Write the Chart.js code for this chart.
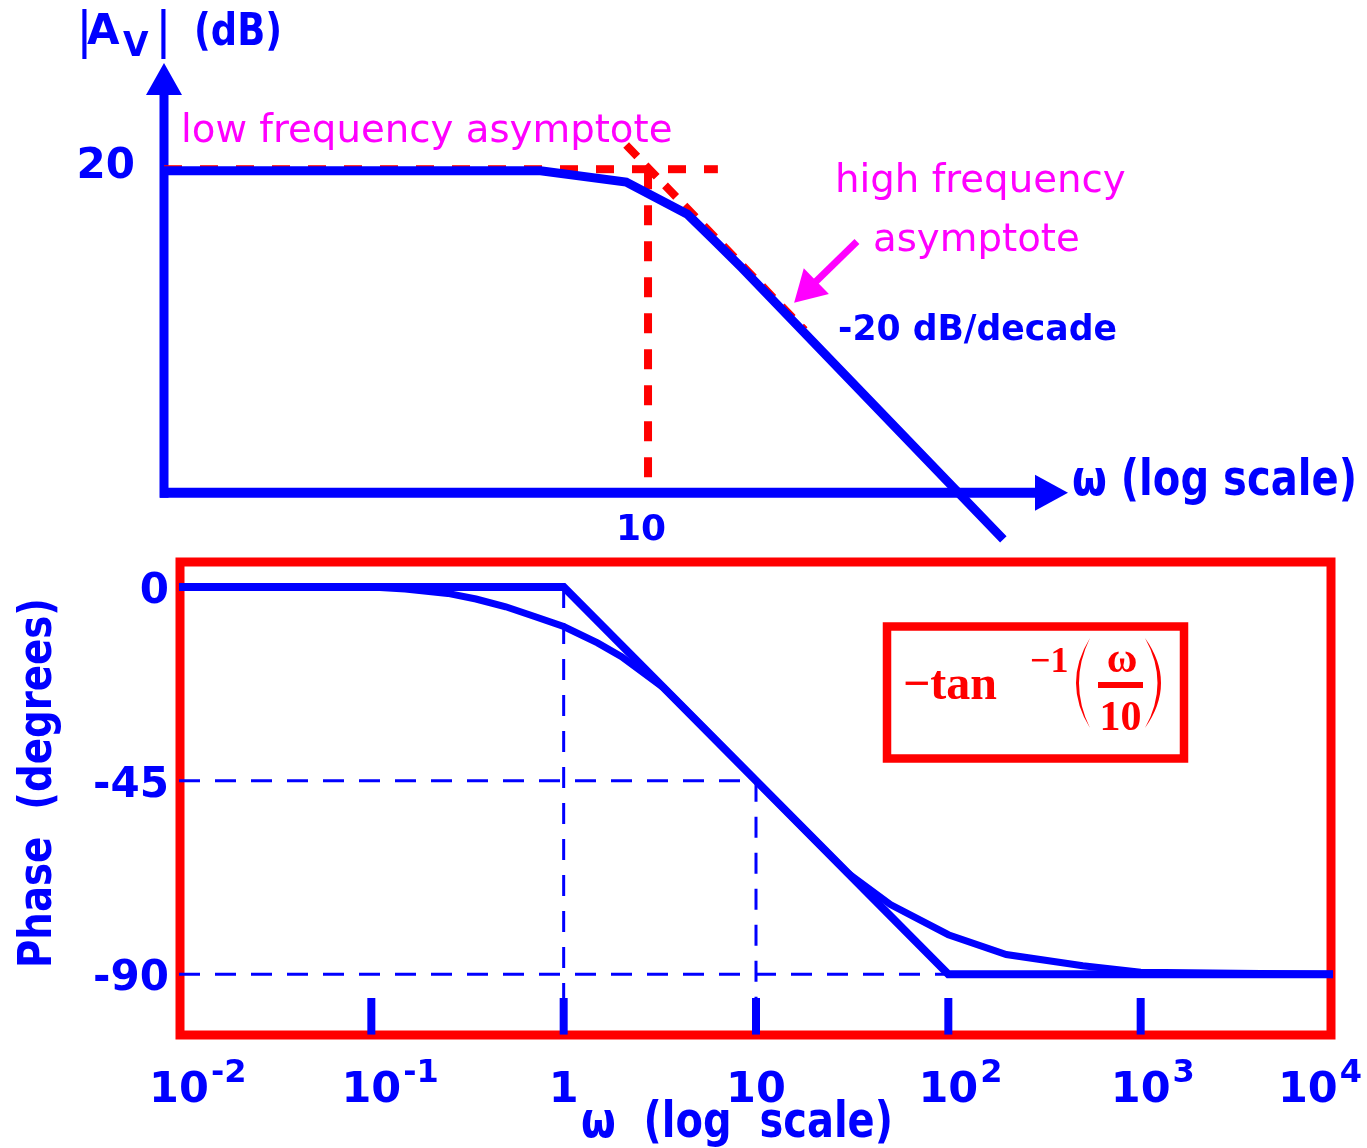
<!DOCTYPE html>
<html>
<head>
<meta charset="utf-8">
<script src="https://cdn.jsdelivr.net/npm/chart.js@4.4.1/dist/chart.umd.min.js"></script>
<style>
  html, body { margin: 0; padding: 0; background: #ffffff; }
  #wrap { position: relative; width: 1367px; height: 1148px; }
  #wrap canvas { position: absolute; left: 0; top: 0; }
</style>
</head>
<body>
<div id="wrap">
  <canvas id="mag" width="1367" height="1148"></canvas>
  <canvas id="phase" width="1367" height="1148"></canvas>
</div>
<script>
// ---------- Magnitude plot: |Av| in dB against log ω ----------
const magOmega = [0.2746, 4.5, 8.5, 13.4, 16.3, 20, 140];
const magDb    = [20, 20, 19.3, 17.3, 15.7, 14.0, -2.9];

const lowAsymOmega  = [0.2746, 16.8];
const lowAsymDb     = [20.1, 20.1];
const highAsymOmega = [8.5, 32];
const highAsymDb    = [21.6, 10.1];
const cornerOmega   = [10, 10];
const cornerDb      = [20.1, 0];

const magRangeOmega = [0.2746, 226.3];
const magRangeDb    = [-4, 26.7];

// pointer from the "high frequency asymptote" note onto the asymptote
const pointerOmega = [47.2, 29.6];
const pointerDb    = [15.6, 11.8];

// ---------- Phase plot: degrees against log ω ----------
const phaseStraightOmega = [0.01, 1, 100, 10000];
const phaseStraightDeg   = [0, 0, -90, -90];

const phaseCurveOmega = [0.1, 0.15, 0.25, 0.35, 0.5, 0.7, 1, 1.5, 2, 3.33, 10, 30, 50, 100, 200, 500, 1000, 10000];
const phaseCurveDeg   = [0, -0.5, -1.5, -2.8, -4.6, -6.8, -9.2, -13, -16.2, -23.5, -45, -66.5, -73.8, -80.8, -85.4, -88, -89.5, -90];

const decadeMarks   = [0.1, 1, 10, 100, 1000];
const decadeMarkDeg = [-104, -95.5];

const tickValues = [0.01, 0.1, 1, 10, 100, 1000, 10000];
const tickBase   = ['10', '10', '1', '10', '10', '10', '10'];
const tickExp    = ['-2', '-1', '', '', '2', '3', '4'];

const phaseTickValues = [0, -45, -90];
const phaseTickLabels = ['0', '-45', '-90'];

const phaseRangeOmega = [0.01, 10000];
const phaseRangeDeg   = [-104.1, 5.8];

const BLUE = '#0000ff', RED = '#ff0000', MAGENTA = '#ff00ff';
const SANS = '"DejaVu Sans", sans-serif';
const SERIF = '"Liberation Serif", "DejaVu Serif", serif';

const pts = (xs, ys) => xs.map((x, i) => ({ x: x, y: ys[i] }));

function text(ctx, s, x, y, font, color, align, maxW) {
  ctx.save();
  ctx.font = font;
  ctx.fillStyle = color;
  ctx.textAlign = align || 'left';
  ctx.textBaseline = 'alphabetic';
  if (maxW) ctx.fillText(s, x, y, maxW); else ctx.fillText(s, x, y);
  ctx.restore();
}

function lineDs(data, color, width, dash, order) {
  return {
    data: data, borderColor: color, borderWidth: width, borderDash: dash || [],
    pointRadius: 0, tension: 0, fill: false, clip: false, order: order
  };
}

const hiddenScales = (xr, yr) => ({
  x: { type: 'logarithmic', min: xr[0], max: xr[1], display: false },
  y: { type: 'linear', min: yr[0], max: yr[1], display: false }
});

// ---------- magnitude chart ----------
const magDecor = {
  id: 'magDecor',
  beforeDatasetsDraw(chart) {
    const ctx = chart.ctx, a = chart.chartArea;
    const xs = chart.scales.x, ys = chart.scales.y;
    const x0 = xs.getPixelForValue(magRangeOmega[0]);
    const y0 = ys.getPixelForValue(0);
    ctx.save();
    ctx.fillStyle = BLUE;
    ctx.strokeStyle = BLUE;
    // vertical axis with arrow head
    ctx.lineWidth = 9;
    ctx.beginPath(); ctx.moveTo(x0, y0 + 5); ctx.lineTo(x0, a.top + 30); ctx.stroke();
    ctx.beginPath(); ctx.moveTo(x0, a.top); ctx.lineTo(x0 - 18, a.top + 32); ctx.lineTo(x0 + 18, a.top + 32); ctx.closePath(); ctx.fill();
    // horizontal axis with arrow head
    ctx.lineWidth = 10;
    ctx.beginPath(); ctx.moveTo(x0 - 4, y0); ctx.lineTo(a.right - 31, y0); ctx.stroke();
    ctx.beginPath(); ctx.moveTo(a.right, y0); ctx.lineTo(a.right - 33, y0 - 18); ctx.lineTo(a.right - 33, y0 + 18); ctx.closePath(); ctx.fill();
    ctx.restore();
  },
  afterDraw(chart) {
    const ctx = chart.ctx;
    const xs = chart.scales.x, ys = chart.scales.y;
    // axis title |Av| (dB)
    text(ctx, '|', 76, 47, 'normal 50px ' + SANS, BLUE);
    text(ctx, 'A', 87, 44, 'bold 42px ' + SANS, BLUE, 'left', 37);
    text(ctx, 'V', 123, 56, 'bold 33px ' + SANS, BLUE);
    text(ctx, '|', 155, 47, 'normal 50px ' + SANS, BLUE);
    text(ctx, '(dB)', 194, 45, 'bold 44px ' + SANS, BLUE, 'left', 88);
    // tick labels
    text(ctx, '20', 135, ys.getPixelForValue(20) + 7, 'bold 42px ' + SANS, BLUE, 'right');
    text(ctx, '10', xs.getPixelForValue(10) - 7, 540, 'bold 36px ' + SANS, BLUE, 'center');
    text(ctx, 'ω (log scale)', 1072, 495, 'bold 50px ' + SANS, BLUE, 'left', 285);
    text(ctx, '-20 dB/decade', 838, 340, 'bold 35px ' + SANS, BLUE, 'left', 279);
    // notes
    text(ctx, 'low frequency asymptote', 181, 142, 'normal 38.7px ' + SANS, MAGENTA);
    text(ctx, 'high frequency', 835, 192, 'normal 38.7px ' + SANS, MAGENTA);
    text(ctx, 'asymptote', 873, 251, 'normal 38.7px ' + SANS, MAGENTA);
    // pointer arrow
    const tx = xs.getPixelForValue(pointerOmega[0]), ty = ys.getPixelForValue(pointerDb[0]);
    const hx = xs.getPixelForValue(pointerOmega[1]), hy = ys.getPixelForValue(pointerDb[1]);
    const dx = hx - tx, dy = hy - ty, len = Math.hypot(dx, dy);
    const ux = dx / len, uy = dy / len, nx = -uy, ny = ux;
    const bx = hx - ux * 31, by = hy - uy * 31;
    ctx.save();
    ctx.strokeStyle = MAGENTA; ctx.fillStyle = MAGENTA; ctx.lineWidth = 7;
    ctx.beginPath(); ctx.moveTo(tx, ty); ctx.lineTo(bx + ux * 2, by + uy * 2); ctx.stroke();
    ctx.beginPath(); ctx.moveTo(hx, hy); ctx.lineTo(bx + nx * 18, by + ny * 18); ctx.lineTo(bx - nx * 18, by - ny * 18); ctx.closePath(); ctx.fill();
    ctx.restore();
  }
};

new Chart(document.getElementById('mag'), {
  type: 'line',
  data: {
    datasets: [
      lineDs(pts(magOmega, magDb), BLUE, 9, null, 0),
      lineDs(pts(lowAsymOmega, lowAsymDb), RED, 8, [18, 18], 5),
      lineDs(pts(highAsymOmega, highAsymDb), RED, 8, [16, 12], 5),
      lineDs(pts(cornerOmega, cornerDb), RED, 8, [20, 16], 5)
    ]
  },
  options: {
    responsive: false, animation: false, devicePixelRatio: 1,
    layout: { padding: { left: 164, right: 299, top: 63, bottom: 591 } },
    plugins: { legend: { display: false }, tooltip: { enabled: false } },
    scales: hiddenScales(magRangeOmega, magRangeDb)
  },
  plugins: [magDecor]
});

// ---------- phase chart ----------
const phaseDecor = {
  id: 'phaseDecor',
  beforeDatasetsDraw(chart) {
    const ctx = chart.ctx, a = chart.chartArea;
    ctx.save();
    ctx.strokeStyle = RED; ctx.lineWidth = 9;
    ctx.strokeRect(a.left + 1, a.top, a.right - a.left - 3, a.bottom - a.top);
    ctx.restore();
  },
  afterDraw(chart) {
    const ctx = chart.ctx;
    const xs = chart.scales.x, ys = chart.scales.y;
    // degree labels
    phaseTickValues.forEach((v, i) => {
      text(ctx, phaseTickLabels[i], 169, ys.getPixelForValue(v) + 16, 'bold 42px ' + SANS, BLUE, 'right');
    });
    // decade labels with exponents
    ctx.save();
    tickValues.forEach((v, i) => {
      ctx.font = 'bold 43px ' + SANS;
      const wb = ctx.measureText(tickBase[i]).width;
      ctx.font = 'bold 32px ' + SANS;
      const we = tickExp[i] ? ctx.measureText(tickExp[i]).width + 2 : 0;
      let left = xs.getPixelForValue(v) - wb / 2;
      if (left < 148) left = 148;
      if (left + wb + we > 1362) left = 1362 - wb - we;
      text(ctx, tickBase[i], left, 1102, 'bold 43px ' + SANS, BLUE);
      if (tickExp[i]) text(ctx, tickExp[i], left + wb + 2, 1082, 'bold 32px ' + SANS, BLUE);
    });
    ctx.restore();
    // axis titles
    text(ctx, 'ω  (log  scale)', 737, 1137, 'bold 50px ' + SANS, BLUE, 'center', 312);
    ctx.save();
    ctx.translate(51, 783);
    ctx.rotate(-Math.PI / 2);
    text(ctx, 'Phase  (degrees)', 0, 0, 'bold 47px ' + SANS, BLUE, 'center', 370);
    ctx.restore();

    // formula box: −tan⁻¹(ω/10)
    ctx.save();
    ctx.strokeStyle = RED; ctx.fillStyle = RED; ctx.lineWidth = 8.5;
    ctx.strokeRect(887, 626.5, 297, 132);
    text(ctx, '\u2212tan', 903, 699, 'bold 48px ' + SERIF, RED);
    text(ctx, '\u22121', 1030, 672, 'bold 36px ' + SERIF, RED);
    // parentheses
    ctx.beginPath();
    ctx.moveTo(1090, 638); ctx.quadraticCurveTo(1062, 683, 1090, 728);
    ctx.quadraticCurveTo(1068, 683, 1090, 638); ctx.fill();
    ctx.beginPath();
    ctx.moveTo(1145, 638); ctx.quadraticCurveTo(1177, 683, 1145, 728);
    ctx.quadraticCurveTo(1170, 683, 1145, 638); ctx.fill();
    // fraction
    text(ctx, 'ω', 1122, 672, 'bold 42px ' + SERIF, RED, 'center');
    ctx.fillRect(1098, 682, 45, 6);
    text(ctx, '10', 1120.5, 730, 'bold 42px ' + SERIF, RED, 'center');
    ctx.restore();
  }
};

const guideDash = [21, 15];
const phaseDatasets = [
  lineDs(pts(phaseStraightOmega, phaseStraightDeg), BLUE, 8, null, 0),
  lineDs(pts(phaseCurveOmega, phaseCurveDeg), BLUE, 7, null, 1),
  lineDs(pts([0.01, 10], [-45, -45]), BLUE, 3, guideDash, 5),
  lineDs(pts([0.01, 100], [-90, -90]), BLUE, 3, guideDash, 5),
  lineDs(pts([1, 1], [0, -95.5]), BLUE, 3, guideDash, 5),
  lineDs(pts([10, 10], [-45, -95.5]), BLUE, 3, guideDash, 5)
];
decadeMarks.forEach(w => {
  phaseDatasets.push(lineDs(pts([w, w], decadeMarkDeg), BLUE, 8, null, 2));
});

new Chart(document.getElementById('phase'), {
  type: 'line',
  data: { datasets: phaseDatasets },
  options: {
    responsive: false, animation: false, devicePixelRatio: 1,
    layout: { padding: { left: 179, right: 34, top: 562, bottom: 113 } },
    plugins: { legend: { display: false }, tooltip: { enabled: false } },
    scales: hiddenScales(phaseRangeOmega, phaseRangeDeg)
  },
  plugins: [phaseDecor]
});
</script>
</body>
</html>
